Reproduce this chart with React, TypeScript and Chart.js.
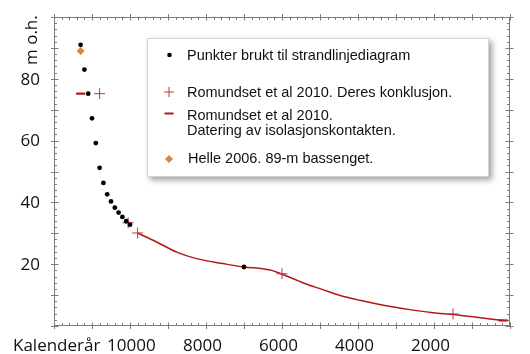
import { useEffect, useRef } from "react";
import { Chart, registerables } from "chart.js";

Chart.register(...registerables);

// ---- data (calendar years before present, metres above sea level) ----
const dotYears = [11300, 11200, 11100, 11000, 10900, 10800, 10700, 10600, 10500, 10400, 10300, 10200, 10100, 10000, 7000];
const dotHeights = [91, 83, 75.2, 67.2, 59.2, 51.2, 46.3, 42.6, 40.3, 38.3, 36.7, 35.3, 33.9, 32.8, 19.1];

const plusYears = [10800, 10050, 9800, 6000, 1500];
const plusHeights = [75.2, 33.4, 30.1, 16.9, 3.9];

const isoMarkYears = [11300];
const isoMarkHeights = [75.2];

const curveYears = [9800, 9300, 8770, 8250, 7550, 7000, 6500, 6270, 6030, 5610, 5260, 5000, 4470, 3950, 3330, 2630, 2020, 1490, 880, 180];
const curveHeights = [30.1, 27.2, 23.9, 21.8, 20.2, 19.1, 18.5, 18.0, 16.9, 14.8, 13.1, 12.1, 9.9, 8.3, 6.7, 5.3, 4.3, 3.7, 2.8, 1.8];

const helleYears = [11300];
const helleHeights = [89];

const xLabelYears = [10000, 8000, 6000, 4000, 2000];
const yLabelValues = [20, 40, 60, 80];

const legendLabels = [
  ["Punkter brukt til strandlinjediagram"],
  ["Romundset et al 2010. Deres konklusjon."],
  ["Romundset et al 2010.", "Datering av isolasjonskontakten."],
  ["Helle 2006. 89-m bassenget."],
];

const xTitle = "Kalenderår";
const yTitle = "m o.h.";

// ---- styles ----
const DOT = "#000000";
const PLUS_RED = "#c8323f";
const LINE_RED = "#b01818";
const ORANGE = "#dc8539";
const AXIS = "#7c7c7c";
const TICK_FONT = '17px "Open Sans"';
const LEGEND_FONT = '14.5px "Liberation Sans"';

const pts = (xs: number[], ys: (number | null)[]) => xs.map((x, i) => ({ x, y: ys[i] }));

export default function App() {
  const ref = useRef<HTMLCanvasElement>(null);

  useEffect(() => {
    const canvas = ref.current;
    if (!canvas) return;

    const curveData: any[] = [
      ...pts(isoMarkYears, isoMarkHeights),
      { x: 10600, y: null },
      ...pts(curveYears, curveHeights),
    ];
    const lastIdx = curveData.length - 1;

    const framePlugin = {
      id: "frameTicks",
      beforeDatasetsDraw(chart: any) {
        const { ctx, chartArea: a, scales } = chart;
        const xs = scales.x;
        const ys = scales.y;
        ctx.save();
        ctx.strokeStyle = AXIS;
        ctx.lineWidth = 1;
        const L = Math.round(a.left) + 0.5;
        const R = Math.round(a.right) - 0.5;
        const T = Math.round(a.top) + 0.5;
        const B = Math.round(a.bottom) - 0.5;
        ctx.strokeRect(L, T, R - L, B - T);
        ctx.beginPath();
        // x ticks
        for (let v = 0; v <= 12000; v += 200) {
          const p = Math.round(xs.getPixelForValue(v)) + 0.5;
          if (v % 1000 === 0) {
            ctx.moveTo(p, B - 3); ctx.lineTo(p, B + 3.5);
            ctx.moveTo(p, T - 3.5); ctx.lineTo(p, T + 3);
          } else {
            ctx.moveTo(p, B - 2.5); ctx.lineTo(p, B);
            ctx.moveTo(p, T); ctx.lineTo(p, T + 2.5);
          }
        }
        // y ticks
        for (let v = 0; v <= 100; v += 2) {
          const p = Math.round(ys.getPixelForValue(v)) + 0.5;
          if (v % 10 === 0) {
            ctx.moveTo(L - 3.5, p); ctx.lineTo(L + 4, p);
            ctx.moveTo(R - 4, p); ctx.lineTo(R + 4, p);
          } else {
            ctx.moveTo(L, p); ctx.lineTo(L + 2.5, p);
            ctx.moveTo(R - 2.5, p); ctx.lineTo(R, p);
          }
        }
        ctx.stroke();

        // labels
        ctx.fillStyle = "#111";
        ctx.font = TICK_FONT;
        ctx.textAlign = "right";
        ctx.textBaseline = "middle";
        yLabelValues.forEach((v) => {
          ctx.fillText(String(v), 40, ys.getPixelForValue(v) + 1);
        });
        ctx.textAlign = "left";
        ctx.textBaseline = "alphabetic";
        xLabelYears.forEach((v) => {
          ctx.fillText(String(v), xs.getPixelForValue(v) - 23, 351);
        });
        ctx.fillText(xTitle, 13, 351);
        ctx.save();
        ctx.translate(36.5, 65);
        ctx.rotate(-Math.PI / 2);
        ctx.fillText(yTitle, 0, 0);
        ctx.restore();
        ctx.restore();
      },
      afterDraw(chart: any) {
        const { ctx } = chart;
        ctx.save();
        const bx = 147, by = 38, bw = 342, bh = 139;
        ctx.shadowColor = "rgba(0,0,0,0.38)";
        ctx.shadowBlur = 6;
        ctx.shadowOffsetX = 3;
        ctx.shadowOffsetY = 3;
        ctx.fillStyle = "#ffffff";
        ctx.fillRect(bx, by, bw, bh);
        ctx.restore();
        ctx.save();
        ctx.strokeStyle = "#d4d4d4";
        ctx.lineWidth = 1;
        ctx.strokeRect(bx + 0.5, by + 0.5, bw - 1, bh - 1);

        const mx = 169;
        // dot
        ctx.fillStyle = DOT;
        ctx.beginPath();
        ctx.arc(mx + 0.5, 55, 2.3, 0, Math.PI * 2);
        ctx.fill();
        // plus
        ctx.strokeStyle = PLUS_RED;
        ctx.lineWidth = 1;
        ctx.beginPath();
        ctx.moveTo(mx - 5, 92); ctx.lineTo(mx + 5, 92);
        ctx.moveTo(mx, 87); ctx.lineTo(mx, 97);
        ctx.stroke();
        // dash
        ctx.strokeStyle = LINE_RED;
        ctx.lineWidth = 2;
        ctx.beginPath();
        ctx.moveTo(mx - 4.5, 113.5); ctx.lineTo(mx + 4.5, 113.5);
        ctx.stroke();
        // diamond
        ctx.fillStyle = ORANGE;
        ctx.beginPath();
        ctx.moveTo(mx, 155); ctx.lineTo(mx + 4, 159); ctx.lineTo(mx, 163); ctx.lineTo(mx - 4, 159);
        ctx.closePath();
        ctx.fill();

        ctx.fillStyle = "#111";
        ctx.font = LEGEND_FONT;
        ctx.textAlign = "left";
        ctx.textBaseline = "alphabetic";
        const baselines = [[60], [97], [120, 135], [163]];
        legendLabels.forEach((lines, i) => {
          lines.forEach((t, j) => {
            ctx.fillText(t, i === 3 ? 188 : 187, baselines[i][j]);
          });
        });
        ctx.restore();
      },
    };

    const chart = new Chart(canvas, {
      type: "scatter",
      data: {
        datasets: [
          {
            label: legendLabels[0][0],
            data: pts(dotYears, dotHeights),
            pointStyle: "circle",
            pointRadius: 2.4,
            pointBackgroundColor: DOT,
            pointBorderWidth: 0,
            showLine: false,
          },
          {
            label: legendLabels[3][0],
            data: pts(helleYears, helleHeights),
            pointStyle: "rectRot",
            pointRadius: 4,
            pointBackgroundColor: ORANGE,
            pointBorderWidth: 0,
            showLine: false,
          },
          {
            label: legendLabels[1][0],
            data: pts(plusYears, plusHeights),
            pointStyle: "cross",
            pointRadius: 5.5,
            pointBorderColor: PLUS_RED,
            pointBorderWidth: 1,
            showLine: false,
          },
          {
            label: legendLabels[2].join(" "),
            data: curveData,
            showLine: true,
            spanGaps: false,
            borderColor: LINE_RED,
            borderWidth: 1.5,
            cubicInterpolationMode: "monotone",
            pointStyle: "line",
            pointRadius: (c: any) => (c.dataIndex === 0 || c.dataIndex === lastIdx ? 4.5 : 0),
            pointBorderColor: LINE_RED,
            pointBorderWidth: 2.2,
          },
        ],
      } as any,
      options: {
        responsive: true,
        maintainAspectRatio: false,
        animation: false,
        layout: { autoPadding: false, padding: { top: 17, right: 20, left: 0, bottom: 0 } },
        plugins: { legend: { display: false }, tooltip: { enabled: false } },
        scales: {
          x: {
            type: "linear",
            reverse: true,
            min: 0,
            max: 12000,
            ticks: { display: false, stepSize: 1000 },
            grid: { display: false },
            border: { display: false },
            afterFit: (s: any) => { s.height = 28; },
          },
          y: {
            type: "linear",
            min: 0,
            max: 100,
            ticks: { display: false, stepSize: 10 },
            grid: { display: false },
            border: { display: false },
            afterFit: (s: any) => { s.width = 54; },
          },
        },
      } as any,
      plugins: [framePlugin],
    });

    return () => chart.destroy();
  }, []);

  return (
    <div style={{ position: "fixed", left: 0, top: 0, width: 530, height: 354, background: "#fff" }}>
      <canvas ref={ref} />
    </div>
  );
}
